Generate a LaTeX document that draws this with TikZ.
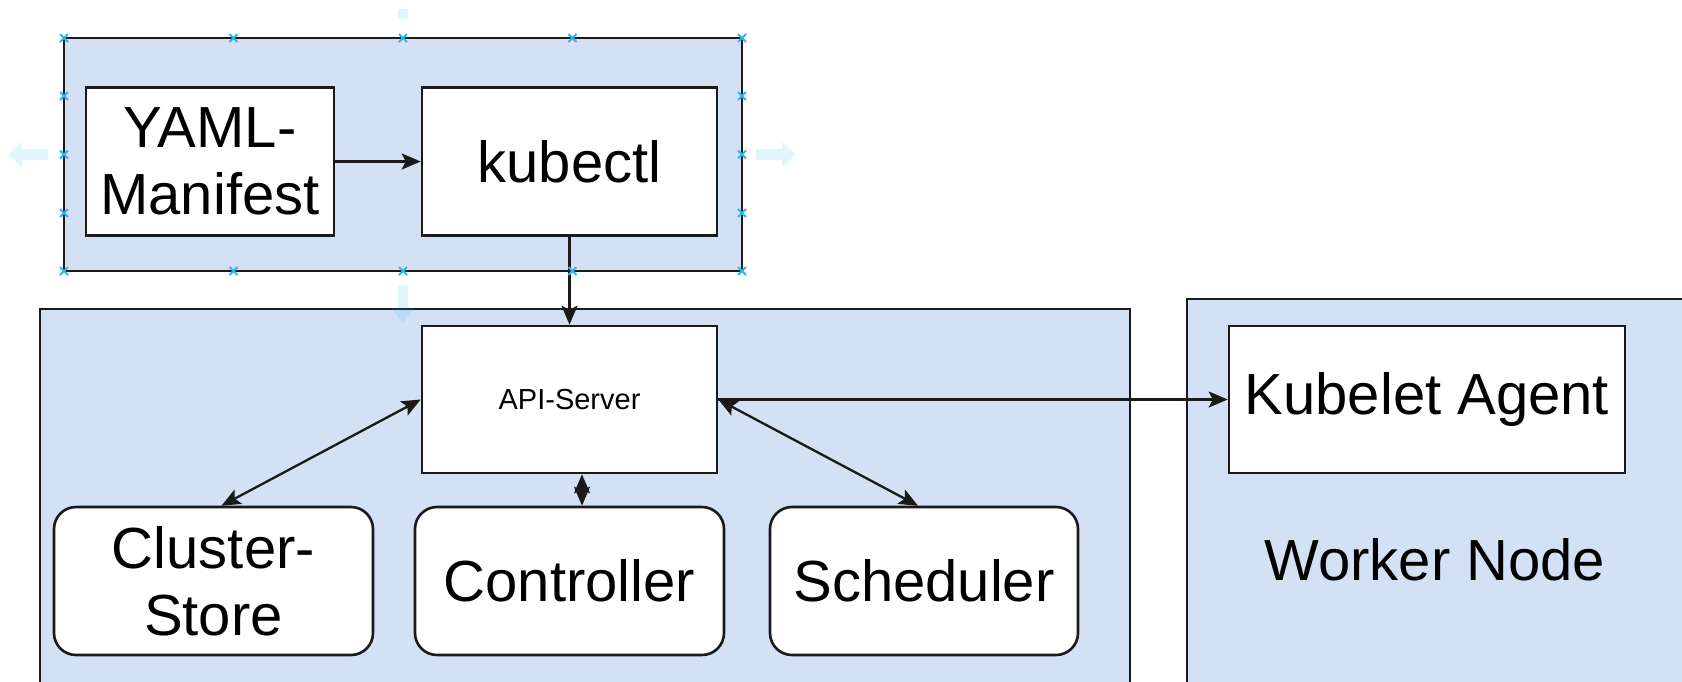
\documentclass[tikz,border=0pt]{standalone}
\usepackage{fontspec}
\setmainfont{Liberation Sans}
\usetikzlibrary{arrows.meta,positioning}
\definecolor{KGroup}{HTML}{D4E1F5}
\definecolor{KLine}{HTML}{1A1A1A}
\definecolor{KHandle}{HTML}{29B6F2}
\newcommand{\kbig}{\fontsize{58}{67}\selectfont}
\newcommand{\ksmall}{\fontsize{29}{34}\selectfont}

\begin{document}
\begin{tikzpicture}[
      x=1pt,y=-1pt,
      group/.style={draw=KLine,line width=2.6pt,fill=KGroup,inner sep=0pt},
      box/.style={draw=KLine,line width=2.6pt,fill=white,inner sep=0pt,
        align=center,font=\kbig},
      roundbox/.style={box,rounded corners=22pt},
      link/.style={-{Stealth[length=19pt,width=16pt,inset=4pt]},
        color=KLine,line width=2.3pt},
      twoway/.style={link,{Stealth[length=19pt,width=16pt,inset=4pt]}-{Stealth[length=19pt,width=16pt,inset=4pt]}},
      handle/.style={draw=KHandle,line width=2pt},
      hint/.style={fill=KHandle,fill opacity=0.14,draw=none}
    ]
      \useasboundingbox (0,0) rectangle (1682,681);
      \clip (0,0) rectangle (1682,681);

      % containers
      \node[group,minimum width=678pt,minimum height=233pt] (client) at (403,154.5) {};
      \node[group,minimum width=1090pt,minimum height=420pt] (master) at (585,519) {};
      \node[group,minimum width=560pt,minimum height=420pt] (worker) at (1467,509) {};

      % client side
      \node[box,minimum width=248pt,minimum height=148pt] (manifest) at (210,161.5) {YAML-\\Manifest};
      \node[box,minimum width=295pt,minimum height=148pt] (kubectl) at (569.5,161.5) {kubectl};

      % control plane
      \node[box,font=\ksmall,minimum width=295pt,minimum height=147pt] (api) at (569.5,399.5) {API-Server};
      \node[roundbox,minimum width=319pt,minimum height=148pt] (store) at (213.5,581) {Cluster-\\Store};
      \node[roundbox,minimum width=309pt,minimum height=148pt] (controller) at (569.5,581) {Controller};
      \node[roundbox,minimum width=308pt,minimum height=148pt] (scheduler) at (924,581) {Scheduler};

      % worker
      \node[box,minimum width=396pt,minimum height=147pt] (kubelet) at (1427,399.5) {Kubelet Agent};
      \node[font=\kbig,anchor=base] (workerlabel) at (1435,580) {Worker Node};

      \draw[link] (manifest) -- (kubectl);
      \draw[link] (kubectl.south) -- (api.north);
      \draw[twoway] (api.west) -- ([xshift=8pt]store.north);
      \draw[twoway] ([xshift=12.5pt]api.south) -- ([xshift=12.5pt]controller.north);
      \draw[twoway] (api.east) -- ([xshift=-6pt]scheduler.north);
      \draw[link] (api.east) -- (kubelet.west);

      % editor handles round the selected group
      \foreach \x in {64,233.5,403,572.5,742}
        \foreach \y in {38,271}
          \draw[handle] (\x-4,\y-4) -- (\x+4,\y+4) (\x-4,\y+4) -- (\x+4,\y-4);
      \foreach \x in {64,742}
        \foreach \y in {96,154.5,213}
          \draw[handle] (\x-4,\y-4) -- (\x+4,\y+4) (\x-4,\y+4) -- (\x+4,\y-4);
      \fill[hint] (48,149) -- (22,149) -- (22,142) -- (8,154.5) -- (22,167) -- (22,160) -- (48,160) -- cycle;
      \fill[hint] (756,149) -- (782,149) -- (782,142) -- (796,154.5) -- (782,167) -- (782,160) -- (756,160) -- cycle;
      \fill[hint] (398,9) rectangle (408,19);
      \fill[hint] (398,285) -- (398,308) -- (391,308) -- (403,323) -- (415,308) -- (408,308) -- (408,285) -- cycle;
    \end{tikzpicture}
\end{document}
